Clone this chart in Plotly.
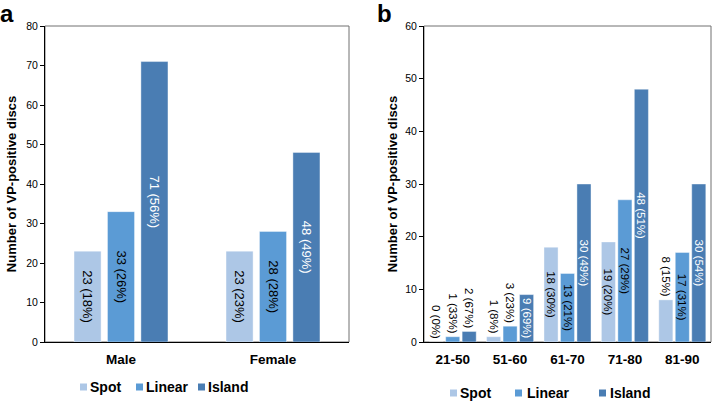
import plotly.graph_objects as go

# ---------------- data ----------------
sex_categories = ["Male", "Female"]
sex_spot = [23, 23]
sex_linear = [33, 28]
sex_island = [71, 48]
sex_spot_pct = [18, 23]
sex_linear_pct = [26, 28]
sex_island_pct = [56, 49]

age_categories = ["21-50", "51-60", "61-70", "71-80", "81-90"]
age_spot = [0, 1, 18, 19, 8]
age_linear = [1, 3, 13, 27, 17]
age_island = [2, 9, 30, 48, 30]
age_spot_pct = [0, 8, 30, 20, 15]
age_linear_pct = [33, 23, 21, 29, 31]
age_island_pct = [67, 69, 49, 51, 54]

series_names = ["Spot", "Linear", "Island"]
colors = ["#adc7e6", "#5b9bd5", "#4a7db3"]
label_colors_inside = ["black", "black", "white"]

FONT = "Liberation Sans, Arial, sans-serif"
W, H, T, B = 712, 401, 26, 59
PH = H - T - B


def px(x):
    return x / W


def py(y):
    return (H - B - y) / PH


fig = go.Figure()


def labels(vals, pcts):
    return [f"{v} ({p}%)" for v, p in zip(vals, pcts)]


def add_panel(cats, series, pcts, xa, ya, width, centers, fontsize, min_inside):
    for k, (vals, pc) in enumerate(zip(series, pcts)):
        pos = ["inside" if v >= min_inside[k] else "outside" for v in vals]
        tcol = [label_colors_inside[k] if p == "inside" else "black" for p in pos]
        fig.add_trace(go.Bar(
            x=cats, y=vals, name=series_names[k],
            xaxis=xa, yaxis=ya,
            width=width, offset=centers[k] - width / 2,
            marker=dict(color=colors[k], line=dict(color="rgba(255,255,255,0.5)", width=0.8)),
            text=labels(vals, pc), textposition=pos, textangle=90,
            insidetextanchor="middle", constraintext="none", cliponaxis=False,
            textfont=dict(family=FONT, size=fontsize, color=tcol),
            showlegend=False, hoverinfo="skip",
        ))


add_panel(sex_categories, [sex_spot, sex_linear, sex_island],
          [sex_spot_pct, sex_linear_pct, sex_island_pct],
          "x", "y", 0.178, [-0.22, 0.0, 0.22], 13, [10, 10, 10])
add_panel(age_categories, [age_spot, age_linear, age_island],
          [age_spot_pct, age_linear_pct, age_island_pct],
          "x2", "y2", 0.245, [-0.287, 0.0, 0.287], 11.5, [10, 10, 5])

axis_common = dict(showgrid=False, zeroline=False, showline=True, linecolor="black",
                   linewidth=1, automargin=False)

fig.update_layout(
    width=W, height=H,
    margin=dict(l=0, r=0, t=T, b=B, autoexpand=False),
    paper_bgcolor="white", plot_bgcolor="white",
    barmode="overlay", showlegend=False,
    font=dict(family=FONT, color="black"),
    xaxis=dict(domain=[px(45), px(349)], anchor="y", ticks="", ticklabelstandoff=5,
               tickfont=dict(size=13.5, family=FONT, weight="bold"),
               range=[-0.5, 1.5], **axis_common),
    yaxis=dict(domain=[0, 1], anchor="x", range=[0, 80], dtick=10,
               ticks="outside", ticklen=4, tickcolor="black",
               tickfont=dict(size=10.5),
               title=dict(text="Number of VP-positive discs", standoff=6,
                          font=dict(size=13, weight="bold")),
               **axis_common),
    xaxis2=dict(domain=[px(424), px(711)], anchor="y2", ticks="", ticklabelstandoff=5,
                tickfont=dict(size=13.5, family=FONT, weight="bold"),
                range=[-0.5, 4.5], **axis_common),
    yaxis2=dict(domain=[0, 1], anchor="x2", range=[0, 60], dtick=10,
                ticks="outside", ticklen=4, tickcolor="black",
                tickfont=dict(size=10.5),
                title=dict(text="Number of VP-positive discs", standoff=4,
                           font=dict(size=13, weight="bold")),
                **axis_common),
)

# frame lines (top/right) in gray
for xr, yr in [("x domain", "y domain"), ("x2 domain", "y2 domain")]:
    fig.add_shape(type="rect", xref=xr, yref=yr, x0=0, x1=1, y0=0, y1=1,
                  line=dict(color="#707070", width=1), layer="below")

# manual legends (square swatch + bold label)
legend_a = [(80, 90), (136, 146), (198, 208)]  # (swatch left px, text left px)
legend_b = [(450, 460), (515, 527), (599, 610)]
for items, ycen in [(legend_a, 387), (legend_b, 393)]:
    for k, (sx, tx) in enumerate(items):
        fig.add_shape(type="rect", xref="paper", yref="paper",
                      x0=px(sx), x1=px(sx + 7), y0=py(ycen + 3.5), y1=py(ycen - 3.5),
                      line=dict(width=0), fillcolor=colors[k])
        fig.add_annotation(text=f"<b>{series_names[k]}</b>", x=px(tx - 2), y=py(ycen),
                           xref="paper", yref="paper", xanchor="left", yanchor="middle",
                           showarrow=False, font=dict(size=14, color="black"))

fig.add_annotation(text="<b>a</b>", x=px(-2), y=py(13), xref="paper", yref="paper",
                   xanchor="left", yanchor="middle", showarrow=False,
                   font=dict(size=24))
fig.add_annotation(text="<b>b</b>", x=px(375), y=py(13), xref="paper", yref="paper",
                   xanchor="left", yanchor="middle", showarrow=False,
                   font=dict(size=24))

fig.write_html("out.html", config={"displayModeBar": False},
               post_script="document.body.style.margin='0px';document.body.style.overflow='hidden';")
